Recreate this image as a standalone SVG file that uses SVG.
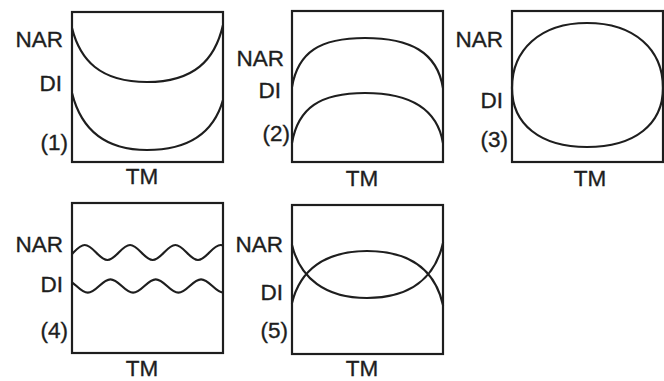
<svg xmlns="http://www.w3.org/2000/svg" width="664" height="381" viewBox="0 0 664 381">
  <style>
    .bg { fill: #ffffff; }
    .box { fill: none; stroke: #1e1e1e; stroke-width: 2.2; }
    .crv { fill: none; stroke: #1e1e1e; stroke-width: 2.2; stroke-linecap: round; }
    .lbl { font-family: "Liberation Sans", Arial, sans-serif; font-size: 22.5px; fill: #1e1e1e; stroke: #1e1e1e; stroke-width: 0.35; text-anchor: end; }
    .tm { font-family: "Liberation Sans", Arial, sans-serif; font-size: 22.5px; fill: #1e1e1e; stroke: #1e1e1e; stroke-width: 0.35; text-anchor: middle; }
  </style>
  <defs>
    <clipPath id="clip4"><rect x="72" y="203" width="151" height="150"/></clipPath>
  </defs>
  <rect class="bg" x="0" y="0" width="664" height="381"/>

  <g id="panel1">
    <rect class="box" x="72" y="12" width="151" height="150"/>
    <path class="crv" d="M72,28 C80,60 100,82 147,82 C194,82 215,60 223,25"/>
    <path class="crv" d="M72,93 C80,125 100,150 147,150 C194,150 215,128 223,100"/>
    <text class="lbl" x="63" y="47">NAR</text>
    <text class="lbl" x="62" y="91">DI</text>
    <text class="lbl" x="68" y="150">(1)</text>
    <text class="tm" x="142" y="184">TM</text>
  </g>

  <g id="panel2">
    <rect class="box" x="292" y="11" width="151" height="151"/>
    <path class="crv" d="M292,87 C298,52 320,38 365,38 C410,38 437,52 443,88"/>
    <path class="crv" d="M292,143 C298,108 320,93 365,93 C410,93 437,108 443,143"/>
    <text class="lbl" x="284" y="66">NAR</text>
    <text class="lbl" x="281" y="98">DI</text>
    <text class="lbl" x="290" y="141">(2)</text>
    <text class="tm" x="362" y="186">TM</text>
  </g>

  <g id="panel3">
    <rect class="box" x="512" y="11" width="151" height="151"/>
    <path class="crv" d="M512,88 C512,50 540,23 587,23 C635,23 663,50 663,88 C663,124 635,147 587,147 C540,147 512,124 512,88 Z"/>
    <text class="lbl" x="503" y="47">NAR</text>
    <text class="lbl" x="503" y="108">DI</text>
    <text class="lbl" x="508" y="147">(3)</text>
    <text class="tm" x="590" y="186">TM</text>
  </g>

  <g id="panel4">
    <rect class="box" x="72" y="203" width="151" height="150"/>
    <line class="box" x1="72" y1="203" x2="223" y2="203" stroke-width="3"/>
    <g clip-path="url(#clip4)">
      <path class="crv" d="M62.1,260 C70.3,260 76.55,245 84.75,245 C92.95,245 99.2,260 107.4,260 C115.6,260 121.85,245 130.05,245 C138.25,245 144.5,260 152.7,260 C160.9,260 167.15,245 175.35,245 C183.55,245 189.8,260 198,260 C206.2,260 212.45,245 220.65,245 C228.85,245 235.1,260 243.3,260"/>
      <path class="crv" d="M42.5,279.3 C50.7,279.3 56.95,292.7 65.15,292.7 C73.35,292.7 79.6,279.3 87.8,279.3 C96,279.3 102.25,292.7 110.45,292.7 C118.65,292.7 124.9,279.3 133.1,279.3 C141.3,279.3 147.55,292.7 155.75,292.7 C163.95,292.7 170.2,279.3 178.4,279.3 C186.6,279.3 192.85,292.7 201.05,292.7 C209.25,292.7 215.5,279.3 223.7,279.3 C231.9,279.3 238.15,292.7 246.35,292.7" transform="matrix(1 0 0 -1 0 572)"/>
    </g>
    <text class="lbl" x="63" y="252">NAR</text>
    <text class="lbl" x="63" y="292">DI</text>
    <text class="lbl" x="68" y="338">(4)</text>
    <text class="tm" x="142" y="376">TM</text>
  </g>

  <g id="panel5">
    <rect class="box" x="292" y="205" width="151" height="149"/>
    <path class="crv" d="M292,245 C300,278 325,298 367,298 C410,298 435,278 443,243"/>
    <path class="crv" d="M292,303 C300,270 325,251 367,251 C410,251 435,270 443,305"/>
    <text class="lbl" x="283" y="252">NAR</text>
    <text class="lbl" x="283" y="300">DI</text>
    <text class="lbl" x="288" y="338">(5)</text>
    <text class="tm" x="362" y="376">TM</text>
  </g>
</svg>
